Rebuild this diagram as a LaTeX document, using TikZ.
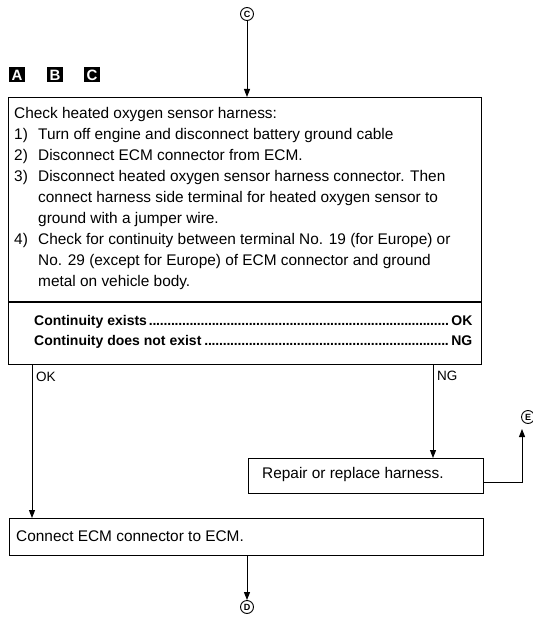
\documentclass[tikz,border=0pt]{standalone}
\usepackage{fontspec}
\setmainfont{Liberation Sans}
\usetikzlibrary{arrows.meta}
\newcommand{\leaderdots}{\leaders\hbox to 3.7pt{\hss.\hss}\hfill}
\begin{document}
\begin{tikzpicture}[x=1pt,y=-1pt,
  box/.style={draw, line width=1.2pt, inner sep=0pt, anchor=north west},
  flow/.style={-{Triangle[length=8pt,width=6pt]}, line width=1pt},
  conn/.style={circle, draw, line width=0.9pt, inner sep=0pt, minimum size=13pt, font=\bfseries\fontsize{9}{9}\selectfont},
  tag/.style={fill=black, text=white, minimum width=16pt, minimum height=15pt, inner sep=0pt, font=\bfseries\fontsize{15}{15}\selectfont},
  txt/.style={inner sep=0pt, anchor=west, font=\fontsize{15.4}{21}\selectfont},
  lbl/.style={inner sep=0pt, anchor=west, font=\fontsize{13.5}{13.5}\selectfont}]
\useasboundingbox (0,0) rectangle (532,620);

% tags
\node[tag] (ta) at (17,75) {A};
\node[tag] (tb) at (55,75) {B};
\node[tag] (tc) at (92,75) {C};

% connector circles
\node[conn] (cC) at (247,14) {C};
\node[conn] (cE) at (528,417) {E};
\node[conn] (cD) at (247,607) {D};

% main box
\node[box, minimum width=473pt, minimum height=267pt] (main) at (8,97) {};
\draw[line width=1.2pt] (main.west |- 0,302) -- (main.east |- 0,302);
\node[inner sep=0pt, anchor=north west, align=left, font=\fontsize{15.4}{21}\selectfont] (steps) at (14,107) {%
Check heated oxygen sensor harness:\\
\makebox[24pt][l]{1)}Turn off engine and disconnect battery ground cable\\
\makebox[24pt][l]{2)}Disconnect ECM connector from ECM.\\
\makebox[24pt][l]{3)}Disconnect heated oxygen sensor harness connector. Then\\
\makebox[24pt][l]{}connect harness side terminal for heated oxygen sensor to\\
\makebox[24pt][l]{}ground with a jumper wire.\\
\makebox[24pt][l]{4)}Check for continuity between terminal No. 19 (for Europe) or\\
\makebox[24pt][l]{}No. 29 (except for Europe) of ECM connector and ground\\
\makebox[24pt][l]{}metal on vehicle body.};
\node[inner sep=0pt, anchor=north west, align=left, font=\bfseries\fontsize{14}{20}\selectfont] (judge) at (34,315) {%
\makebox[438pt]{Continuity exists\leaderdots OK}\\
\makebox[438pt]{Continuity does not exist\leaderdots NG}};

% repair box
\node[box, minimum width=235pt, minimum height=35pt] (repair) at (248,458) {};
\node[txt] (rtxt) at (262,475) {Repair or replace harness.};

% connect box
\node[box, minimum width=474pt, minimum height=37pt] (conn) at (9,518) {};
\node[txt] (ctxt) at (16,536) {Connect ECM connector to ECM.};

% helper coordinates
\coordinate (okx) at (32,0);
\coordinate (ngx) at (433,0);
\coordinate (ecorner) at (522,482);
\coordinate (etip) at (522,429);

% connectors
\draw[flow] (cC) -- (cC |- main.north);
\draw[flow] (okx |- main.south) -- (okx |- conn.north);
\draw[flow] (ngx |- main.south) -- (ngx |- repair.north);
\draw[flow] (repair.east |- ecorner) -- (ecorner) -- (etip);
\draw[flow] (cD |- conn.south) -- (cD.north);

% labels
\node[lbl] (okl) at (36,377) {OK};
\node[lbl] (ngl) at (437,376) {NG};
\end{tikzpicture}
\end{document}
